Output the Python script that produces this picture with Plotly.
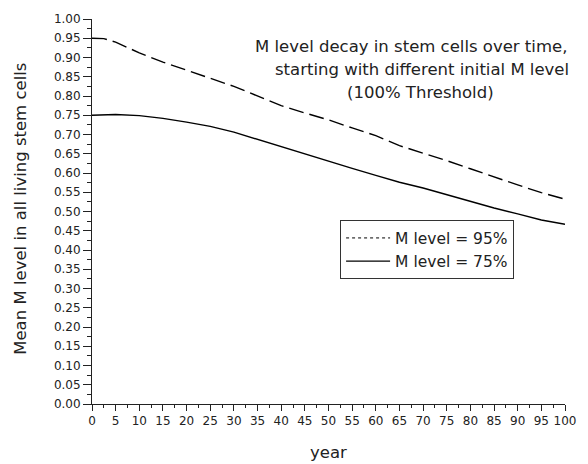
import plotly.graph_objects as go

years = [0, 2.5, 5, 10, 15, 20, 25, 30, 35, 40, 45, 50, 55, 60, 65, 70, 75, 80, 85, 90, 95, 100]
m95 = [0.950, 0.949, 0.940, 0.912, 0.888, 0.866, 0.846, 0.825, 0.801, 0.775, 0.756, 0.738,
       0.717, 0.697, 0.671, 0.652, 0.632, 0.611, 0.589, 0.569, 0.549, 0.532]
m75 = [0.750, 0.751, 0.752, 0.749, 0.742, 0.732, 0.721, 0.706, 0.687, 0.667, 0.648, 0.630,
       0.612, 0.594, 0.576, 0.561, 0.543, 0.526, 0.509, 0.494, 0.478, 0.467]
names = ["M level = 95%", "M level = 75%"]
title_lines = ["M level decay in stem cells over time,",
               "starting with different initial M level",
               "(100% Threshold)"]
x_title = "year"
y_title = "Mean M level in all living stem cells"

FONT = "DejaVu Sans"
INK = "#222222"

fig = go.Figure()
fig.add_trace(go.Scatter(x=years, y=m95, mode="lines", showlegend=False,
                         line=dict(color="black", width=1.4, dash="15px,6px")))
fig.add_trace(go.Scatter(x=[None], y=[None], mode="lines", name=names[0],
                         line=dict(color="black", width=1, dash="dot")))
fig.add_trace(go.Scatter(x=years, y=m75, mode="lines", name=names[1],
                         line=dict(color="black", width=1.4)))

fig.update_layout(
    width=588, height=464,
    margin=dict(l=92, r=12, t=14, b=60),
    paper_bgcolor="white", plot_bgcolor="white",
    font=dict(family=FONT, size=12, color=INK),
    showlegend=True,
    legend=dict(x=0.5245, y=0.477, xanchor="left", yanchor="top",
                bordercolor="#333333", borderwidth=1, bgcolor="white",
                font=dict(family=FONT, size=15.5, color=INK),
                tracegroupgap=0, itemwidth=44),
    xaxis=dict(range=[0, 100], dtick=5, tick0=0, showgrid=False, zeroline=False,
               showline=True, linecolor="#222222", linewidth=1,
               ticks="outside", ticklen=6, tickcolor="#222222",
               minor=dict(dtick=2.5, ticks="outside", ticklen=3, tickcolor="#222222", showgrid=False),
               tickfont=dict(family=FONT, size=12, color=INK)),
    yaxis=dict(range=[0, 1.0], dtick=0.05, tick0=0, tickformat=".2f", showgrid=False, zeroline=False,
               showline=True, linecolor="#222222", linewidth=1,
               ticks="outside", ticklen=8, tickcolor="#222222",
               minor=dict(dtick=0.025, ticks="outside", ticklen=4, tickcolor="#222222", showgrid=False),
               tickfont=dict(family=FONT, size=12, color=INK)),
)

title_pos = [(0.674, 0.928), (0.697, 0.869), (0.694, 0.808)]
for line, (px, py) in zip(title_lines, title_pos):
    fig.add_annotation(text=line, xref="paper", yref="paper",
                       x=px, y=py, xanchor="center", yanchor="middle",
                       showarrow=False, font=dict(family=FONT, size=16.5, color=INK))
fig.add_annotation(text=x_title, xref="paper", yref="paper", x=0.499, y=-0.1256,
                   xanchor="center", yanchor="middle", showarrow=False,
                   font=dict(family=FONT, size=16.5, color=INK))
fig.add_annotation(text=y_title, xref="paper", yref="paper", x=-0.151, y=0.506,
                   xanchor="center", yanchor="middle", textangle=-90, showarrow=False,
                   font=dict(family=FONT, size=16.5, color=INK))

fig.write_html("out.html")
